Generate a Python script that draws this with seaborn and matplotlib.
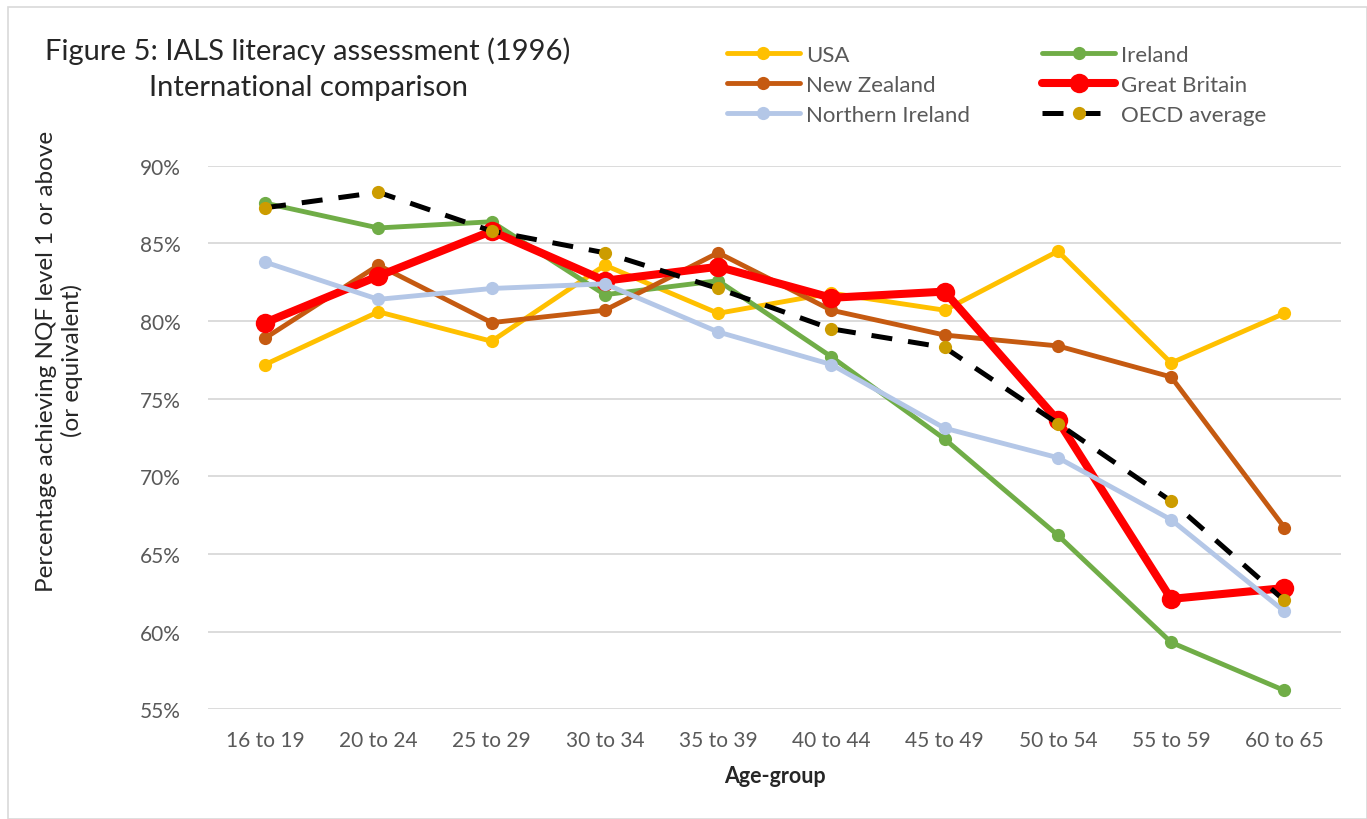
import matplotlib
matplotlib.use('Agg')
import matplotlib.pyplot as plt
import seaborn as sns
from matplotlib.patches import Rectangle

age_groups = ['16 to 19', '20 to 24', '25 to 29', '30 to 34', '35 to 39',
              '40 to 44', '45 to 49', '50 to 54', '55 to 59', '60 to 65']

usa = [77.2, 80.6, 78.7, 83.6, 80.5, 81.8, 80.7, 84.5, 77.3, 80.5]
ireland = [87.6, 86.0, 86.4, 81.7, 82.6, 77.7, 72.4, 66.2, 59.3, 56.2]
new_zealand = [78.9, 83.6, 79.9, 80.7, 84.4, 80.7, 79.1, 78.4, 76.4, 66.7]
great_britain = [79.9, 82.9, 85.8, 82.6, 83.5, 81.5, 81.9, 73.6, 62.1, 62.8]
northern_ireland = [83.8, 81.4, 82.1, 82.4, 79.3, 77.2, 73.1, 71.2, 67.2, 61.3]
oecd = [87.3, 88.3, 85.8, 84.4, 82.1, 79.5, 78.3, 73.4, 68.4, 62.0]

sns.set_style('white')
plt.rcParams['font.family'] = ['Lato', 'DejaVu Sans']

fig = plt.figure(figsize=(13.67, 8.2), dpi=100)
ax = fig.add_axes([0.1525, 0.134, 0.8285, 0.6625])

grey = '#595959'

series = [
    ('USA', usa, '#FFC000', 3.5, 9.5),
    ('Ireland', ireland, '#70AD47', 3.5, 9.5),
    ('New Zealand', new_zealand, '#C55A11', 3.5, 9.5),
    ('Great Britain', great_britain, '#FF0000', 5.8, 14),
    ('Northern Ireland', northern_ireland, '#B4C7E7', 3.5, 9.5),
]
for name, vals, col, lw, ms in series:
    sns.lineplot(x=age_groups, y=vals, ax=ax, color=col, linewidth=lw,
                 marker='o', markersize=ms, markeredgewidth=0, label=name,
                 sort=False)

sns.lineplot(x=age_groups, y=oecd, ax=ax, color='black', linewidth=3.6,
             linestyle=(0, (4.2, 3.2)), marker='o', markersize=9.5,
             markerfacecolor='#CC9C00', markeredgewidth=0, label='OECD average',
             sort=False)

ax.set_ylim(55, 90)
ax.set_xlim(-0.5, len(age_groups) - 0.5)
ax.set_yticks([55, 60, 65, 70, 75, 80, 85, 90])
ax.set_yticklabels([f'{v}%' for v in [55, 60, 65, 70, 75, 80, 85, 90]])
ax.grid(axis='y', color='#D9D9D9', linewidth=1.3)
ax.grid(axis='x', visible=False)
ax.set_axisbelow(True)
for s in ax.spines.values():
    s.set_visible(False)
ax.tick_params(axis='both', length=0, labelsize=15, labelcolor=grey)
ax.tick_params(axis='x', pad=15)
ax.tick_params(axis='y', pad=20)
ax.set_xlabel('Age-group', fontsize=15.5, fontweight='bold', labelpad=11)
ax.set_ylabel('')

fig.text(0.0435, 1 - 361 / 820, 'Percentage achieving NQF level 1 or above\n(or equivalent)',
         rotation=90, ha='center', va='center', multialignment='center', fontsize=17.5)

fig.text(0.033, 1 - 51 / 820, 'Figure 5: IALS literacy assessment (1996)', fontsize=21,
         ha='left', va='center')
fig.text(0.226, 1 - 88 / 820, 'International comparison', fontsize=21,
         ha='center', va='center')

# legend: columns fill top to bottom
handles, labels = ax.get_legend_handles_labels()
order = ['USA', 'New Zealand', 'Northern Ireland', 'Ireland', 'Great Britain', 'OECD average']
hmap = dict(zip(labels, handles))
ax.legend([hmap[k] for k in order], order, ncol=2, frameon=False, fontsize=16,
          loc='upper left', bbox_to_anchor=(0.517, 1 - 26 / 820), bbox_transform=fig.transFigure,
          handlelength=3.3, columnspacing=3.25, labelspacing=0.45, handletextpad=0.25,
          labelcolor=grey)

fig.patches.append(Rectangle((8 / 1367, 0), 1 - 8 / 1367, 1 - 8 / 820, transform=fig.transFigure,
                             fill=False, edgecolor='#D9D9D9', linewidth=1.2))

fig.savefig('out.png', dpi=100)
